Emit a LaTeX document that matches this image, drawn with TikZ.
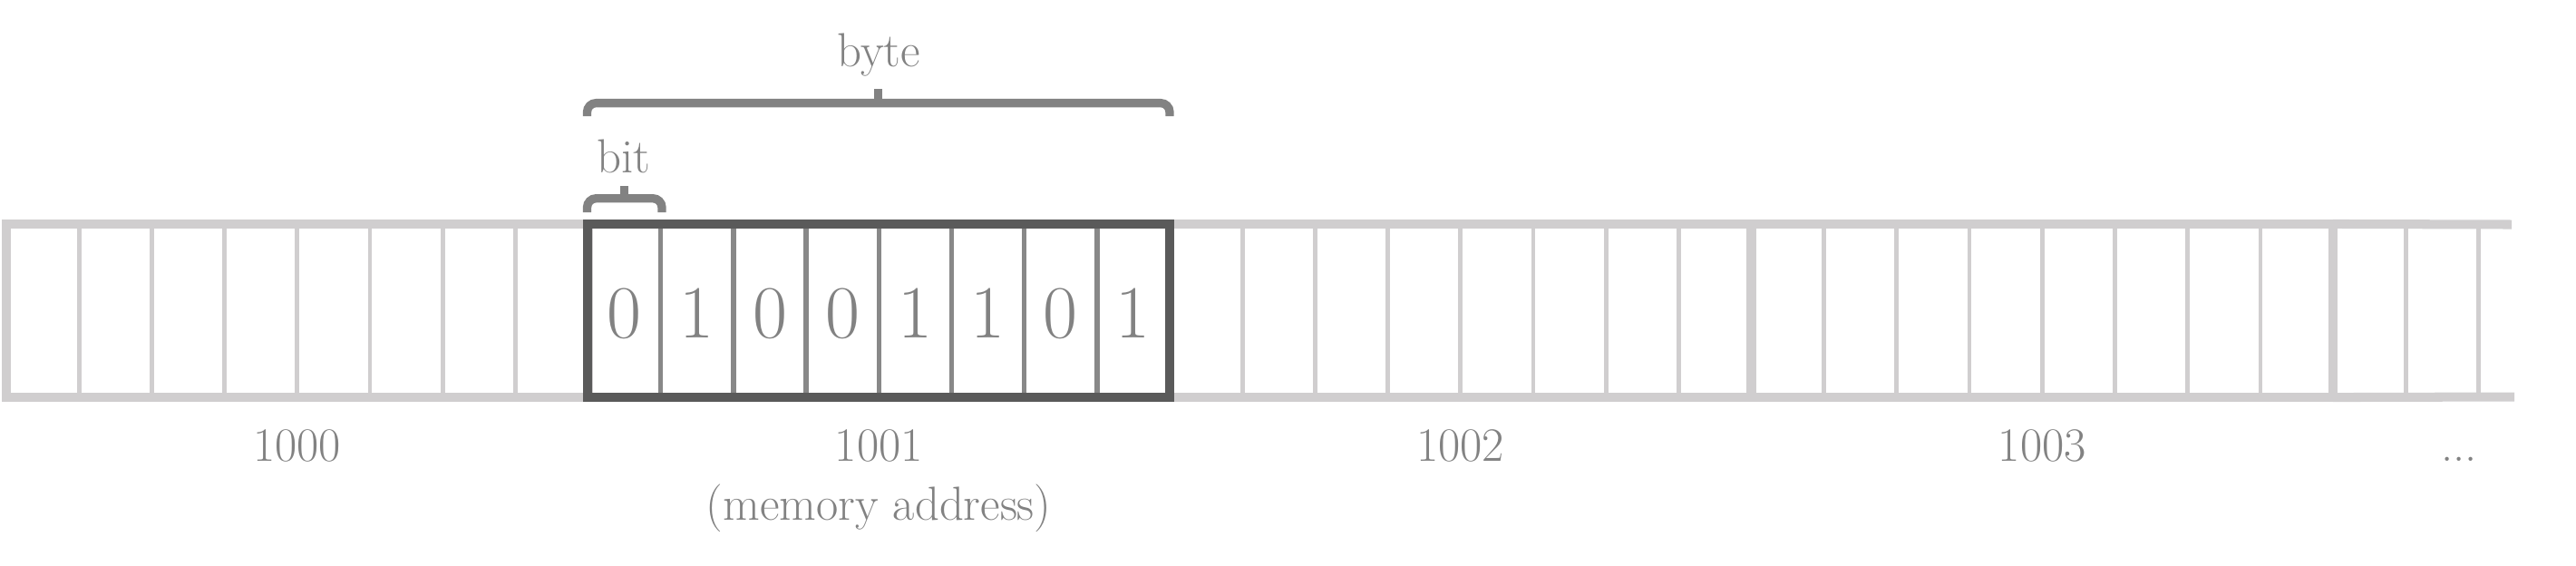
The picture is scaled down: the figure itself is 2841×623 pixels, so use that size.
\documentclass[tikz,border=0pt]{standalone}
\usetikzlibrary{calc}
\definecolor{lightg}{HTML}{D0CECF}
\definecolor{darkg}{HTML}{5A5A5A}
\definecolor{midg}{HTML}{888888}
\definecolor{textg}{HTML}{828282}
\begin{document}
\begin{tikzpicture}[x=0.01cm,y=-0.01cm,
  bytebox/.style={draw=lightg, line width=2.85pt, minimum width=6.415cm, minimum height=1.91cm, inner sep=0pt, outer sep=0pt},
  selbox/.style={bytebox, draw=darkg},
  divider/.style={draw=lightg, line width=1.4pt, shorten <=1.42pt, shorten >=1.42pt},
  seldivider/.style={draw=midg, line width=1.55pt, shorten <=1.42pt, shorten >=1.42pt},
  partline/.style={draw=lightg, line width=2.85pt},
  bitlabel/.style={text=textg, font=\fontsize{23.5}{28}\selectfont, inner sep=0pt, anchor=base},
  lbl/.style={text=textg, font=\fontsize{15}{18.5}\selectfont, inner sep=0pt, anchor=base},
  bracepath/.style={draw=textg, line width=2.65pt, rounded corners=0.1cm},
  bracetip/.style={draw=textg, line width=2.65pt}
]
\useasboundingbox (0,0) rectangle (2841,623);
% byte boxes
\node[bytebox] (b0) at (327.75,342.5) {};
\node[bytebox] (b2) at (1610.75,342.5) {};
\node[bytebox] (b3) at (2252.25,342.5) {};
\node[selbox] (b1) at (969.25,342.5) {};
% dividers
\foreach \b in {b0,b2,b3}{
  \foreach \k in {1,...,7}{
    \draw[divider] ($(\b.north west)!\k/8!(\b.north east)$) -- ($(\b.south west)!\k/8!(\b.south east)$);
  }
}
\foreach \k in {1,...,7}{
  \draw[seldivider] ($(b1.north west)!\k/8!(b1.north east)$) -- ($(b1.south west)!\k/8!(b1.south east)$);
}
% partial byte
\coordinate (endt) at (2770,247.5);
\coordinate (endb) at (2773,437.5);
\draw[partline] (b3.north east) -- (endt);
\draw[partline] (b3.south east) -- (endb);
\foreach \k in {1,2}{
  \draw[divider] ($(b3.north east)+({80.19*\k},0)$) -- ($(b3.south east)+({80.19*\k},0)$);
}
% bits
\foreach \v [count=\k from 0] in {0,1,0,0,1,1,0,1}{
  \node[bitlabel] (bit\k) at ({688.6+80.19*\k},372.7) {\v};
}
% braces
\coordinate (byteL) at (647.5,128);
\coordinate (byteR) at (1290,128);
\coordinate (byteM) at (968.7,113.6);
\coordinate (byteT) at (968.7,98);
\draw[bracepath] (byteL) -- (647.5,113.6) -- (1290,113.6) -- (byteR);
\draw[bracetip] (byteM) -- (byteT);
\coordinate (bitL) at (647.5,234);
\coordinate (bitR) at (730,234);
\coordinate (bitM) at (688.7,218.7);
\coordinate (bitT) at (688.7,205);
\draw[bracepath] (bitL) -- (647.5,218.7) -- (730,218.7) -- (bitR);
\draw[bracetip] (bitM) -- (bitT);
% labels
\node[lbl] (lbyte) at (969,73) {byte};
\node[lbl] (lbit) at (688,190) {bit};
\node[lbl] (a0) at (327.75,508) {1000};
\node[lbl] (a1) at (969.25,508) {1001};
\node[lbl] (a1b) at (969.25,573) {(memory address)};
\node[lbl] (a2) at (1610.75,508) {1002};
\node[lbl] (a3) at (2252.25,508) {1003};
\node[lbl] (a4) at (2712,508) {...};
\end{tikzpicture}
\end{document}
